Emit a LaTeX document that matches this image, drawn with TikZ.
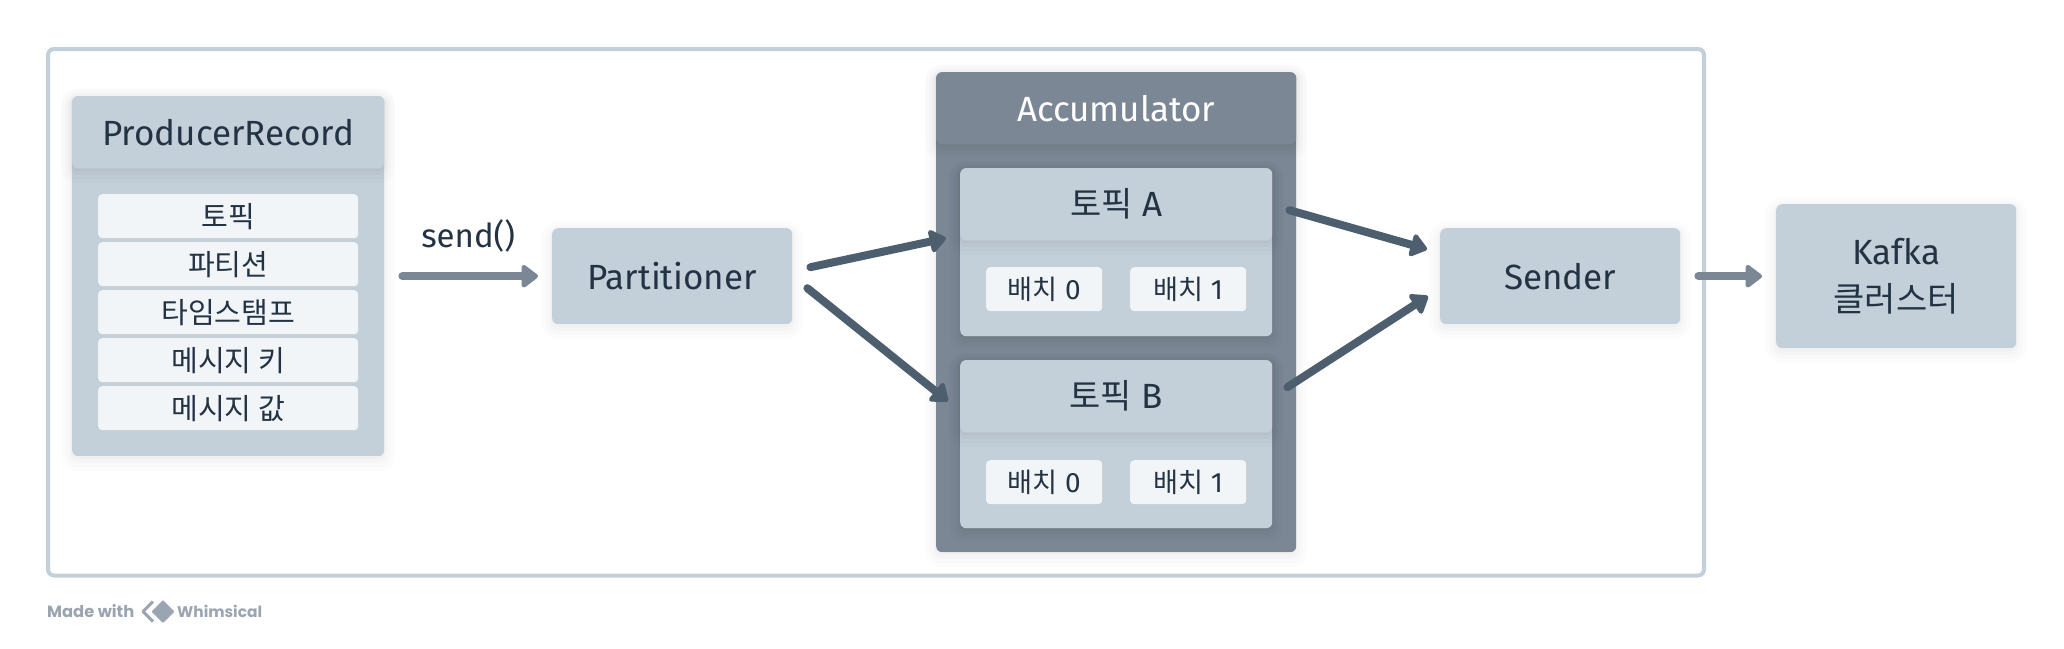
\documentclass[tikz,border=0pt]{standalone}
\usepackage{fontspec}
\setmainfont{Fira Sans}
\newfontfamily\kofont{Noto Sans CJK KR}[Scale=0.97]
\newfontfamily\markfont{Poppins}
\newcommand{\ko}[1]{{\kofont #1}}
\usetikzlibrary{arrows.meta,positioning}
\definecolor{lightbox}{HTML}{C3CFD9}
\definecolor{palebox}{HTML}{F1F5F8}
\definecolor{darkbox}{HTML}{7B8794}
\definecolor{darkarrow}{HTML}{4D5E6E}
\definecolor{ink}{HTML}{243344}
\definecolor{markgrey}{HTML}{9AA5B1}
\tikzset{
  softshadow/.style={
    preaction={draw=black,fill=none,draw opacity=.012,line width=22pt,transform canvas={yshift=-4pt}},
    preaction={draw=black,fill=none,draw opacity=.012,line width=14pt,transform canvas={yshift=-4pt}},
    preaction={draw=black,fill=none,draw opacity=.014,line width=7pt,transform canvas={yshift=-3pt}},
    preaction={draw=black,fill=none,draw opacity=.016,line width=2pt,transform canvas={yshift=-2pt}}},
  card/.style={rectangle,rounded corners=6pt,draw=none,inner sep=0pt,anchor=north west,text=ink,softshadow},
  lightcard/.style={card,fill=lightbox},
  darkcard/.style={card,fill=darkbox},
  field/.style={rectangle,rounded corners=4pt,draw=none,inner sep=0pt,anchor=north west,fill=palebox,text=ink},
  headfont/.style={font=\fontsize{35}{47}\selectfont},
  fieldfont/.style={font=\fontsize{30}{34}\selectfont},
  batchfont/.style={font=\fontsize{28}{32}\selectfont},
  markstyle/.style={anchor=west,inner sep=0pt,text=markgrey,font=\markfont\fontsize{15.4}{20}\selectfont\bfseries},
  flowlight/.style={draw=darkbox,line width=8pt,line cap=round,-{Triangle[length=18pt,width=26pt,round]}},
  flowdark/.style={draw=darkarrow,line width=8pt,line cap=round,-{Triangle[length=18pt,width=26pt,round]}},
}
\begin{document}
\begin{tikzpicture}[x=1pt,y=-1pt]
\useasboundingbox (0,0) rectangle (2064,648);
\fill[white] (0,0) rectangle (2064,648);
\draw[lightbox,line width=4pt,rounded corners=6pt] (48,49) rectangle (1704,575.5);

% ProducerRecord
\node[lightcard,minimum width=312pt,minimum height=360pt] (rec) at (72,96) {};
\node[lightcard,minimum width=312pt,minimum height=72pt,headfont] (rechead) at (72,96) {ProducerRecord};
\node[field,minimum width=260pt,minimum height=44pt,fieldfont] (f1) at (98,194) {\ko{토픽}};
\node[field,minimum width=260pt,minimum height=44pt,fieldfont] (f2) at (98,242) {\ko{파티션}};
\node[field,minimum width=260pt,minimum height=44pt,fieldfont] (f3) at (98,290) {\ko{타임스탬프}};
\node[field,minimum width=260pt,minimum height=44pt,fieldfont] (f4) at (98,338) {\ko{메시지 키}};
\node[field,minimum width=260pt,minimum height=44pt,fieldfont] (f5) at (98,386) {\ko{메시지 값}};

% Partitioner
\node[lightcard,minimum width=240pt,minimum height=96pt,headfont] (part) at (552,228) {Partitioner};

% Accumulator
\node[darkcard,minimum width=360pt,minimum height=480pt] (acc) at (936,72) {};
\node[darkcard,minimum width=360pt,minimum height=72pt,headfont,text=white] (acchead) at (936,72) {Accumulator};

\node[lightcard,minimum width=312pt,minimum height=168pt] (ta) at (960,168) {};
\node[lightcard,minimum width=312pt,minimum height=72pt,headfont] (tahead) at (960,168) {\ko{토픽} A};
\node[field,minimum width=116pt,minimum height=44pt,batchfont] (a0) at (986,267) {\ko{배치} 0};
\node[field,minimum width=116pt,minimum height=44pt,batchfont] (a1) at (1130,267) {\ko{배치} 1};

\node[lightcard,minimum width=312pt,minimum height=168pt] (tb) at (960,360) {};
\node[lightcard,minimum width=312pt,minimum height=72pt,headfont] (tbhead) at (960,360) {\ko{토픽} B};
\node[field,minimum width=116pt,minimum height=44pt,batchfont] (b0) at (986,460) {\ko{배치} 0};
\node[field,minimum width=116pt,minimum height=44pt,batchfont] (b1) at (1130,460) {\ko{배치} 1};

% Sender, Kafka
\node[lightcard,minimum width=240pt,minimum height=96pt,headfont] (send) at (1440,228) {Sender};
\node[lightcard,minimum width=240pt,minimum height=144pt,headfont,align=center] (kafka) at (1776,204) {Kafka\\\ko{클러스터}};

% Connectors
\draw[flowlight] ([xshift=18pt]rec.east) -- node[midway,above=20pt,xshift=-2pt,text=ink,font=\fontsize{33}{47}\selectfont,inner sep=0pt] (sendlabel) {send()} ([xshift=-14pt]part.west);
\draw[flowdark] ([shift={(18,-9)}]part.east) -- ([shift={(-14,-14)}]ta.west);
\draw[flowdark] ([shift={(15,12)}]part.east) -- ([shift={(-12,-43)}]tb.west);
\draw[flowdark] ([shift={(17,-42)}]ta.east) -- ([shift={(-13,-27)}]send.west);
\draw[flowdark] ([shift={(15,-57)}]tb.east) -- ([shift={(-12,20)}]send.west);
\draw[flowlight] ([xshift=18pt]send.east) -- ([xshift=-14pt]kafka.west);

% Footer
\node[markstyle,font=\markfont\fontsize{16.3}{20}\selectfont\bfseries] (made) at (47,611) {Made with};
\fill[markgrey,rounded corners=1pt] (163,600) -- (174.5,611.5) -- (163,623) -- (151.5,611.5) -- cycle;
\draw[markgrey,line width=3pt,line join=round] (153,601.5) -- (143,611.5) -- (153,621.5);
\node[markstyle] (whim) at (177,611) {Whimsical};
\end{tikzpicture}
\end{document}
